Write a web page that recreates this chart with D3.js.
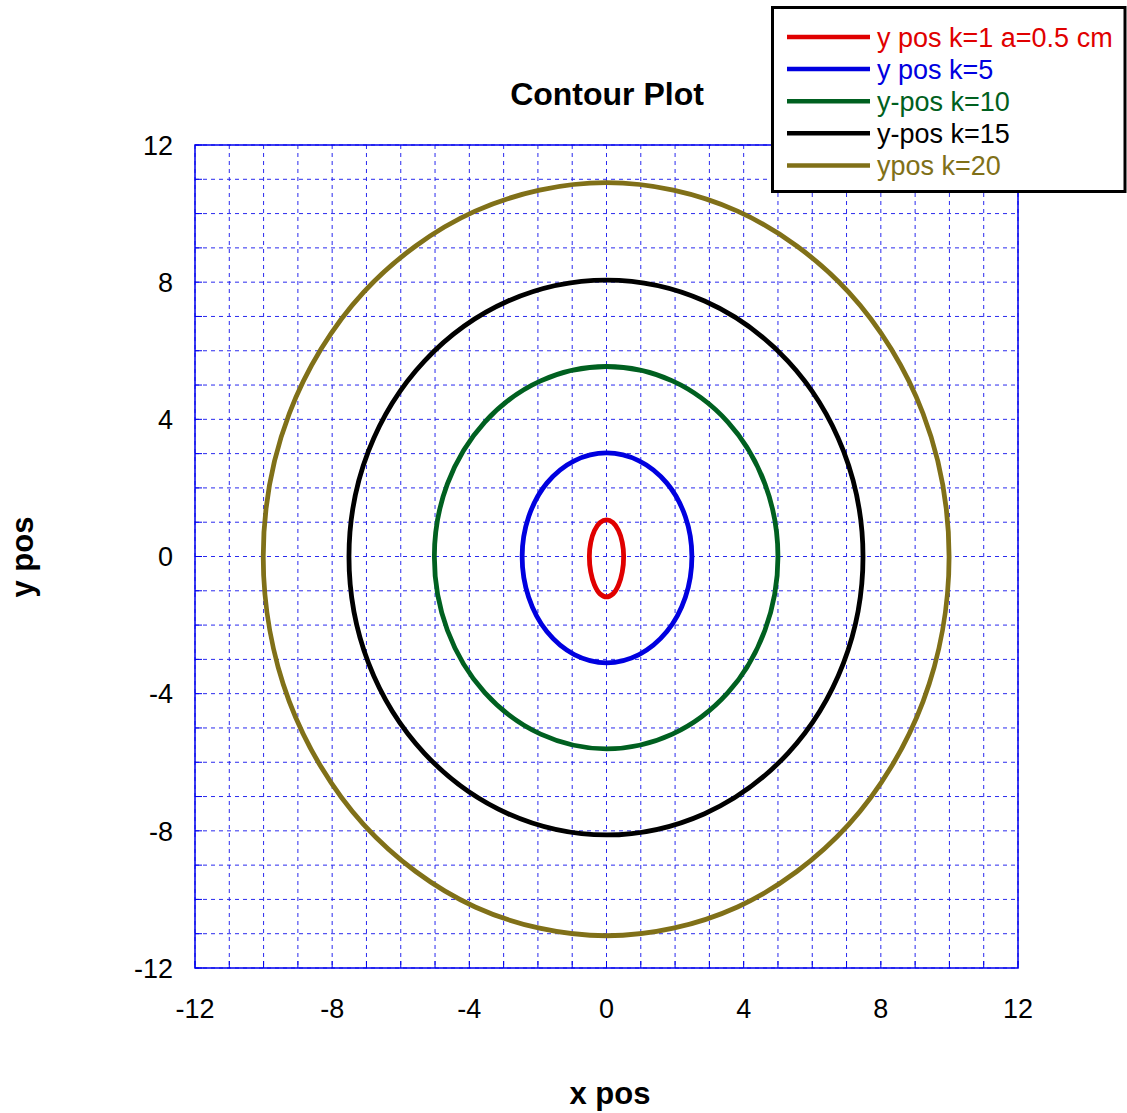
<!DOCTYPE html>
<html>
<head>
<meta charset="utf-8">
<script src="https://cdn.jsdelivr.net/npm/d3@7"></script>
<style>
  html, body { margin: 0; padding: 0; background: #fff; }
  svg { display: block; }
  text { font-family: "Liberation Sans", Arial, sans-serif; }
</style>
</head>
<body>
<svg id="chart" width="1127" height="1113"></svg>
<script>
// Contour traces (x, y) in cm, one closed curve per k value
const contourK1 = [
  [0.50, 0], [0.46, 0.41], [0.35, 0.76], [0.19, 0.99], [0, 1.07], [-0.19, 0.99], [-0.35, 0.76], [-0.46, 0.41],
  [-0.50, 0], [-0.46, -0.45], [-0.35, -0.83], [-0.19, -1.09], [0, -1.18], [0.19, -1.09], [0.35, -0.83], [0.46, -0.45]
];
const contourK5 = [
  [2.49, 0], [2.30, 1.16], [1.76, 2.14], [0.95, 2.79], [0, 3.02], [-0.94, 2.79], [-1.74, 2.14], [-2.27, 1.16],
  [-2.46, 0], [-2.27, -1.19], [-1.74, -2.19], [-0.94, -2.86], [0, -3.10], [0.95, -2.86], [1.76, -2.19], [2.30, -1.19]
];
const contourK10 = [
  [5.00, 0], [4.62, 2.12], [3.54, 3.92], [1.92, 5.12], [0, 5.54], [-1.92, 5.12], [-3.55, 3.92], [-4.64, 2.12],
  [-5.02, 0], [-4.64, -2.15], [-3.55, -3.97], [-1.92, -5.18], [0, -5.61], [1.92, -5.18], [3.54, -3.97], [4.62, -2.15]
];
const contourK15 = [
  [7.48, 0], [6.91, 3.08], [5.29, 5.70], [2.86, 7.45], [0, 8.06], [-2.87, 7.45], [-5.31, 5.70], [-6.94, 3.08],
  [-7.51, 0], [-6.94, -3.11], [-5.31, -5.74], [-2.87, -7.50], [0, -8.12], [2.86, -7.50], [5.29, -5.74], [6.91, -3.11]
];
const contourK20 = [
  [9.99, 0], [9.23, 4.17], [7.06, 7.71], [3.82, 10.07], [0, 10.90], [-3.83, 10.07], [-7.08, 7.71], [-9.25, 4.17],
  [-10.01, 0], [-9.25, -4.23], [-7.08, -7.82], [-3.83, -10.22], [0, -11.06], [3.82, -10.22], [7.06, -7.82], [9.23, -4.23]
];

const seriesNames = ["y pos k=1 a=0.5 cm", "y pos k=5", "y-pos k=10", "y-pos k=15", "ypos k=20"];
const seriesColors = ["#e00000", "#0000e0", "#006020", "#000000", "#807018"];
const xTicks = [-12, -8, -4, 0, 4, 8, 12];
const yTicks = [-12, -8, -4, 0, 4, 8, 12];
const gridSteps = d3.range(-12, 13, 1);

const traces = [contourK1, contourK5, contourK10, contourK15, contourK20];

const svg = d3.select("#chart");
const plot = { left: 195, right: 1018, top: 145, bottom: 968 };

const x = d3.scaleLinear().domain([-12, 12]).range([plot.left, plot.right]);
const y = d3.scaleLinear().domain([-12, 12]).range([plot.bottom, plot.top]);

// dashed grid at every unit
const grid = svg.append("g");
grid.selectAll("line.gx").data(gridSteps).join("line")
  .attr("x1", d => x(d)).attr("x2", d => x(d))
  .attr("y1", plot.top).attr("y2", plot.bottom)
  .attr("stroke", "#2a2aee").attr("stroke-width", 1)
  .attr("stroke-dasharray", "4,4");
grid.selectAll("line.gy").data(gridSteps).join("line")
  .attr("y1", d => y(d)).attr("y2", d => y(d))
  .attr("x1", plot.left).attr("x2", plot.right)
  .attr("stroke", "#2a2aee").attr("stroke-width", 1)
  .attr("stroke-dasharray", "4,4");

// inward tick marks
grid.selectAll("line.tb").data(gridSteps).join("line")
  .attr("x1", d => x(d)).attr("x2", d => x(d))
  .attr("y1", plot.bottom).attr("y2", plot.bottom - 7)
  .attr("stroke", "#0000ee").attr("stroke-width", 1);
grid.selectAll("line.tl").data(gridSteps).join("line")
  .attr("y1", d => y(d)).attr("y2", d => y(d))
  .attr("x1", plot.left).attr("x2", plot.left + 7)
  .attr("stroke", "#0000ee").attr("stroke-width", 1);

// frame
svg.append("rect")
  .attr("x", plot.left).attr("y", plot.top)
  .attr("width", plot.right - plot.left).attr("height", plot.bottom - plot.top)
  .attr("fill", "none").attr("stroke", "#0000ee").attr("stroke-width", 1.5);

// tick labels
svg.append("g").selectAll("text").data(yTicks).join("text")
  .attr("x", 173).attr("y", d => y(d))
  .attr("text-anchor", "end").attr("dy", "0.36em")
  .attr("font-size", 27).attr("fill", "#000")
  .text(d => d);
svg.append("g").selectAll("text").data(xTicks).join("text")
  .attr("x", d => x(d)).attr("y", 1008)
  .attr("text-anchor", "middle").attr("dy", "0.36em")
  .attr("font-size", 27).attr("fill", "#000")
  .text(d => d);

// contour curves
const line = d3.line()
  .x(d => x(d[0])).y(d => y(d[1]))
  .curve(d3.curveCatmullRomClosed.alpha(0.5));
svg.append("g").selectAll("path").data(traces).join("path")
  .attr("d", d => line(d))
  .attr("fill", "none")
  .attr("stroke", (d, i) => seriesColors[i])
  .attr("stroke-width", 4.8);

// titles
svg.append("text").attr("x", 607).attr("y", 93).attr("dy", "0.36em")
  .attr("text-anchor", "middle").attr("font-size", 32).attr("font-weight", "bold")
  .text("Contour Plot");
svg.append("text").attr("x", 610).attr("y", 1093).attr("dy", "0.36em")
  .attr("text-anchor", "middle").attr("font-size", 31).attr("font-weight", "bold")
  .text("x pos");
svg.append("text")
  .attr("transform", "translate(22,557) rotate(-90)")
  .attr("dy", "0.36em")
  .attr("text-anchor", "middle").attr("font-size", 31).attr("font-weight", "bold")
  .text("y pos");

// legend
const legend = svg.append("g");
legend.append("rect")
  .attr("x", 772.5).attr("y", 7.5).attr("width", 352.5).attr("height", 184)
  .attr("fill", "#fff").attr("stroke", "#000").attr("stroke-width", 3);
const rows = legend.selectAll("g.row").data(seriesNames).join("g")
  .attr("transform", (d, i) => `translate(0,${37 + i * 32.1})`);
rows.append("line")
  .attr("x1", 787).attr("x2", 870).attr("y1", 0).attr("y2", 0)
  .attr("stroke", (d, i) => seriesColors[i]).attr("stroke-width", 4.5);
rows.append("text")
  .attr("x", 877)
  .attr("dy", "0.36em").attr("font-size", 27)
  .attr("fill", (d, i) => seriesColors[i])
  .text(d => d);
</script>
</body>
</html>
